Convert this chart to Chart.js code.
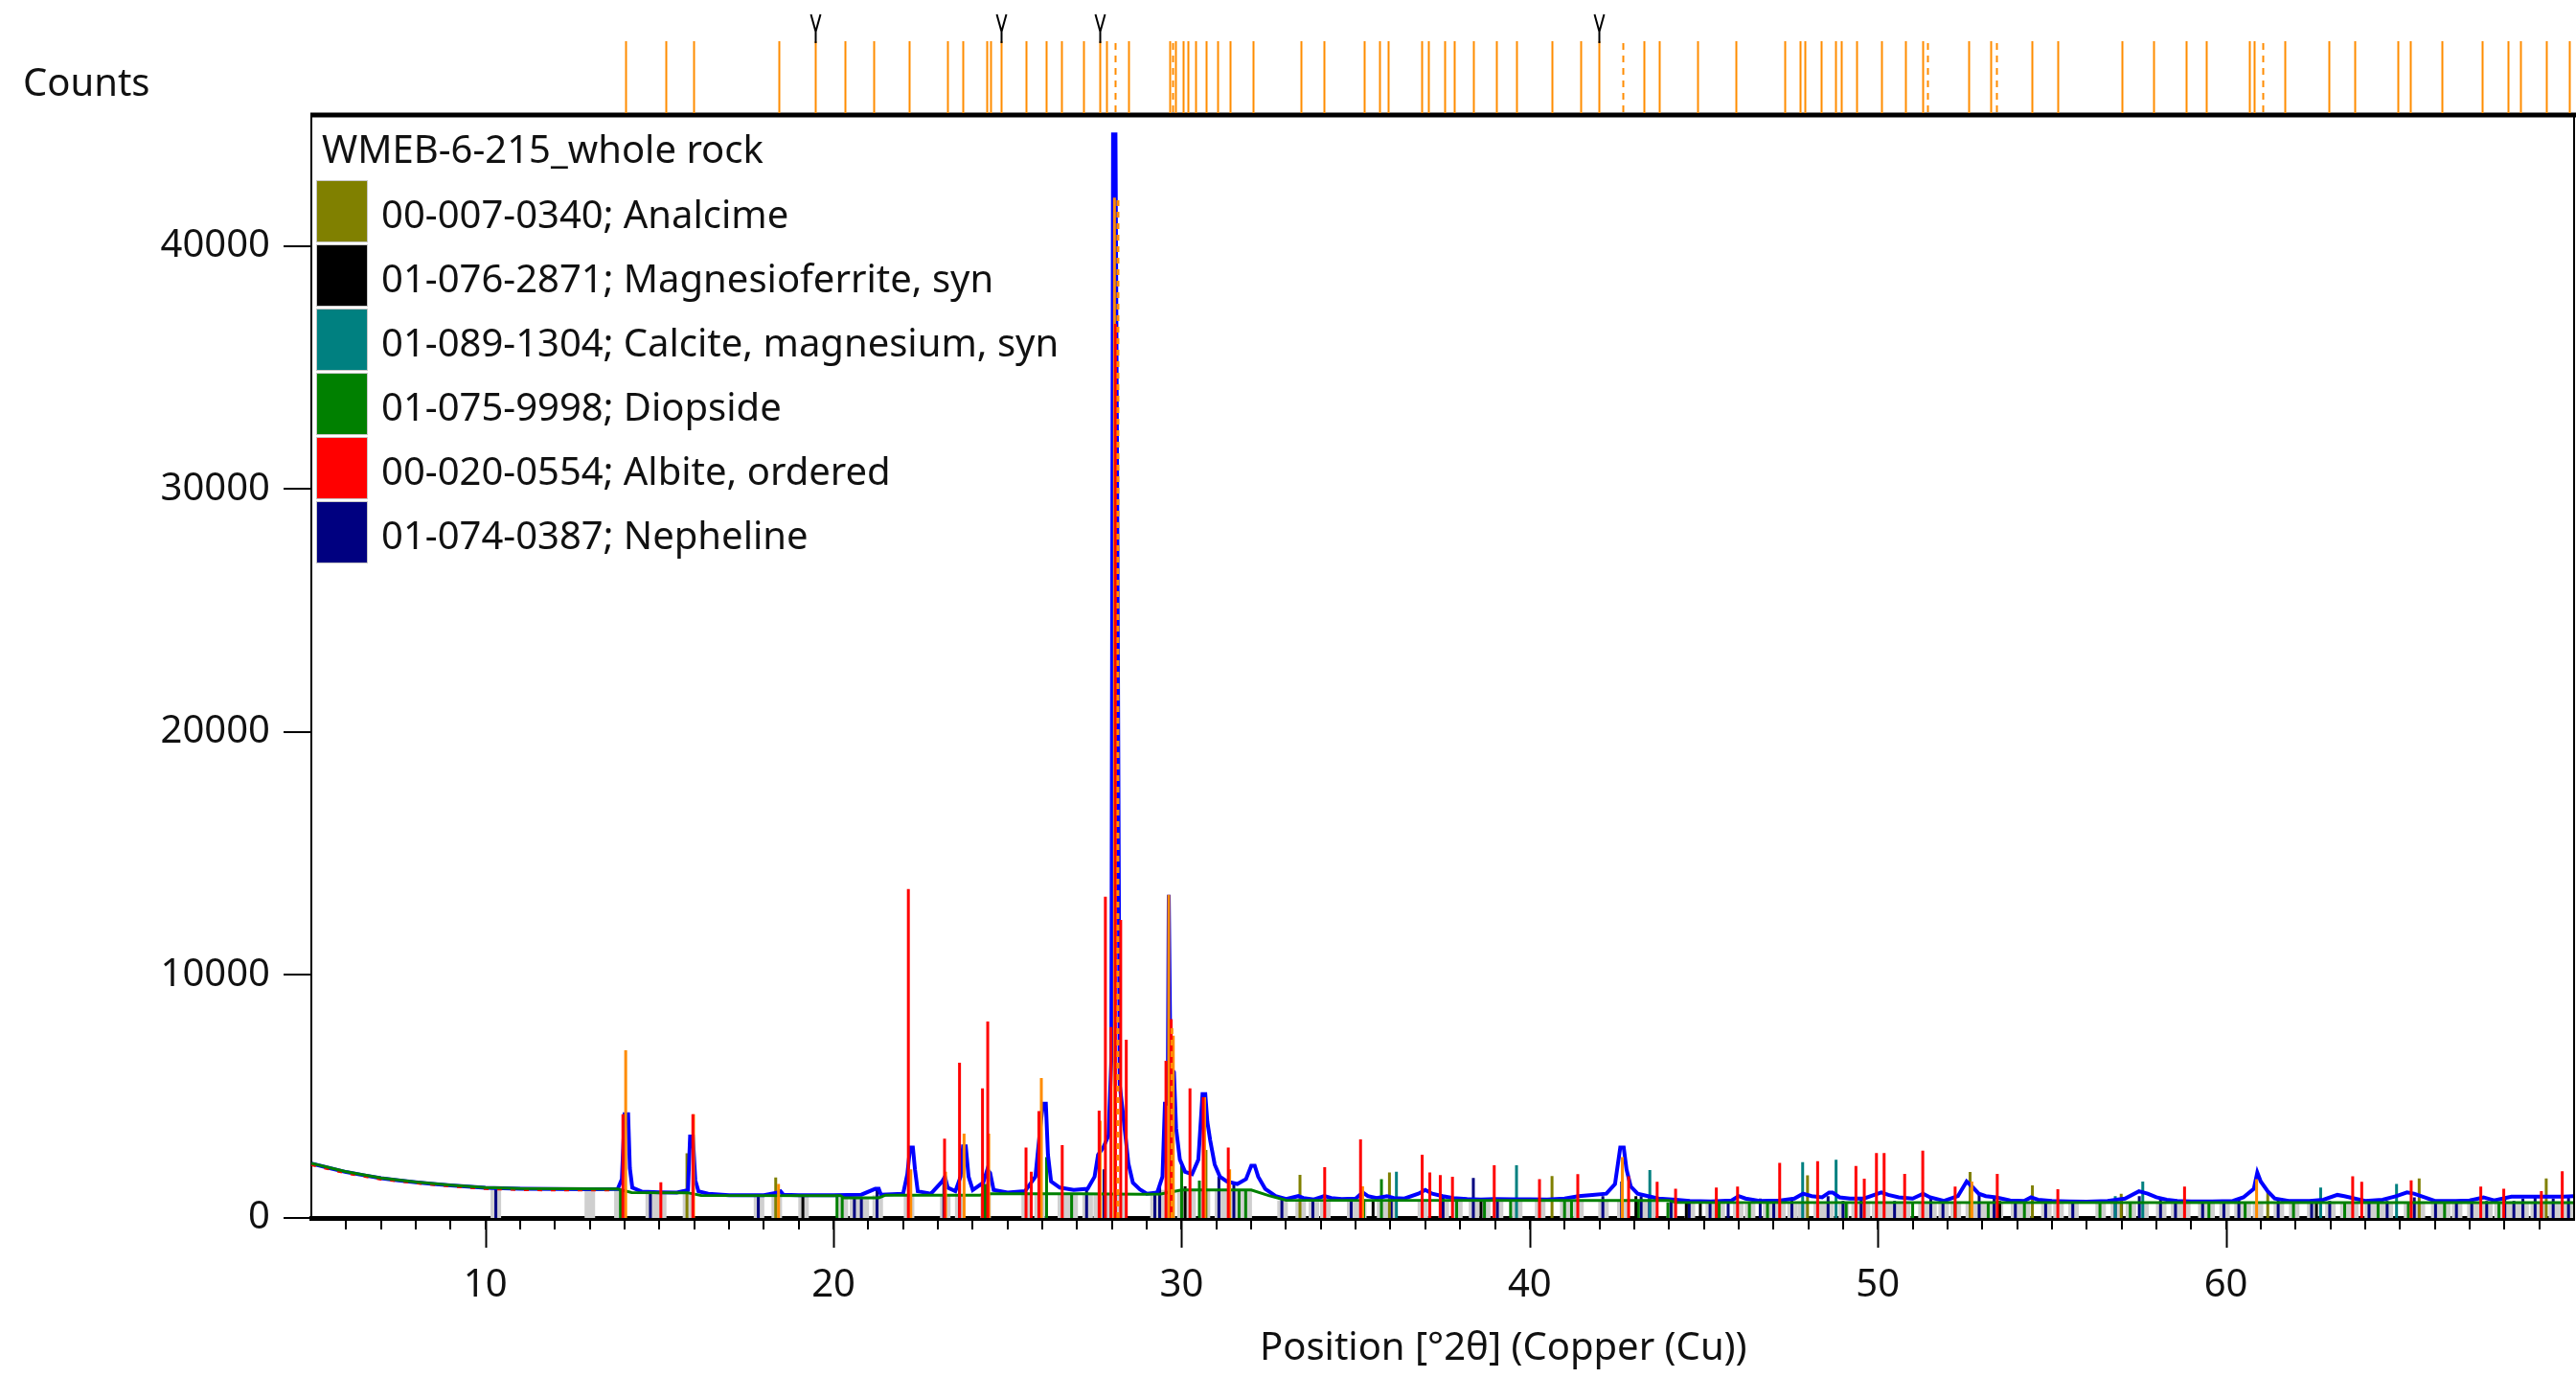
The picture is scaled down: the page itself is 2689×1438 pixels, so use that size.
<!DOCTYPE html>
<html lang="en">
<head>
<meta charset="UTF-8">
<title>WMEB-6-215 whole rock XRD</title>
<script src="https://cdn.jsdelivr.net/npm/chart.js@4.4.1/dist/chart.umd.min.js"></script>
<style>
    body { margin: 0; background: #fff; }
    #wrap { position: relative; width: 2689px; height: 1438px; font-family: "Noto Sans", sans-serif; color: #111; }
    .lbl { position: absolute; line-height: 1; white-space: nowrap; }
    #counts { left: 24px; top: 65px; font-size: 40px; }
    #xtitle { left: 1315px; top: 1384px; font-size: 40px; }
    #legend { position: absolute; left: 330px; top: 135px; }
    #legend .title { font-size: 40px; line-height: 1; margin-left: 6px; height: 53px; }
    #legend .row { position: relative; height: 67px; }
    #legend .sw { position: absolute; left: 0; top: 0; width: 52px; height: 63px; border: 1px solid #c8c8c8; }
    #legend .txt { position: absolute; left: 68px; top: 15px; font-size: 40px; line-height: 1; white-space: nowrap; }
</style>
</head>
<body>
<div id="wrap">
    <canvas id="chart"></canvas>
    <div class="lbl" id="counts">Counts</div>
    <div class="lbl" id="xtitle">Position [°2θ] (Copper (Cu))</div>
    <div id="legend"></div>
</div>

<script>
// sample + phases (legend order)
const sampleName = 'WMEB-6-215_whole rock';
const phaseLabels = ['00-007-0340; Analcime', '01-076-2871; Magnesioferrite, syn', '01-089-1304; Calcite, magnesium, syn',
    '01-075-9998; Diopside', '00-020-0554; Albite, ordered', '01-074-0387; Nepheline'];
const phaseColors = ['#808000', '#000000', '#008080', '#008000', '#ff0000', '#000080'];

const yTicks = [0, 10000, 20000, 30000, 40000];
const xLabels = [10, 20, 30, 40, 50, 60];

// measured scan (blue)
const scanX = [5.0, 5.5, 6.0, 6.5, 7.0, 7.5, 8.0, 8.5, 9.0, 9.5, 10.0, 11.0, 12.0, 13.0, 13.8, 13.92, 14.0, 14.1, 14.15, 14.22,
    14.5, 15.0, 15.5, 15.82, 15.88, 15.96, 16.03, 16.12, 16.4, 17.0, 18.0, 18.4, 18.48, 18.56, 19.0, 20.0, 20.8, 21.2, 21.3, 21.36,
    22.0, 22.12, 22.2, 22.28, 22.34, 22.42, 22.8, 23.12, 23.2, 23.28, 23.5, 23.65, 23.72, 23.8, 23.88, 24.0, 24.3, 24.42, 24.5, 24.6,
    25.0, 25.5, 25.8, 25.96, 26.02, 26.1, 26.16, 26.25, 26.5, 26.9, 27.3, 27.5, 27.6, 27.75, 27.9, 27.98, 28.03, 28.1, 28.15, 28.22,
    28.3, 28.4, 28.47, 28.6, 28.8, 29.0, 29.3, 29.45, 29.52, 29.6, 29.63, 29.68, 29.78, 29.84, 29.95, 30.1, 30.3, 30.48, 30.6, 30.68,
    30.74, 30.82, 30.95, 31.1, 31.3, 31.6, 31.85, 32.0, 32.1, 32.2, 32.4, 32.7, 33.0, 33.35, 33.5, 33.8, 34.1, 34.3, 34.6, 35.0,
    35.2, 35.35, 35.6, 35.9, 36.1, 36.4, 36.8, 37.0, 37.2, 37.5, 37.8, 38.2, 38.6, 39.0, 39.5, 40.0, 40.5, 41.0, 41.4, 41.8,
    42.2, 42.45, 42.6, 42.7, 42.78, 42.9, 43.1, 43.4, 43.7, 44.2, 44.6, 45.2, 45.8, 46.0, 46.2, 46.6, 47.2, 47.6, 47.85, 48.1,
    48.4, 48.6, 48.7, 48.9, 49.2, 49.6, 49.9, 50.1, 50.3, 50.6, 51.0, 51.3, 51.5, 51.9, 52.3, 52.55, 52.7, 52.9, 53.1, 53.4,
    53.8, 54.2, 54.4, 54.6, 55.0, 55.5, 56.0, 56.6, 57.1, 57.5, 57.75, 58.0, 58.3, 58.6, 59.0, 59.6, 60.2, 60.5, 60.8, 60.9,
    61.0, 61.2, 61.4, 61.8, 62.4, 62.8, 63.2, 63.4, 63.7, 64.0, 64.5, 64.9, 65.2, 65.4, 65.7, 66.0, 66.6, 67.0, 67.4, 67.7,
    68.2, 69.2, 69.7, 70.0];
const scanY = [2240, 2060, 1890, 1760, 1640, 1550, 1470, 1400, 1340, 1290, 1240, 1200, 1190, 1185, 1190, 1600, 4270, 4270, 2050, 1250,
    1080, 1060, 1050, 1150, 3350, 3350, 1550, 1100, 1000, 940, 935, 1050, 1100, 960, 940, 940, 960, 1200, 1200, 960,
    1000, 1800, 2900, 2900, 2000, 1100, 1000, 1500, 1700, 1250, 1100, 1700, 2950, 2950, 1700, 1150, 1450, 2000, 1850, 1150,
    1050, 1100, 1700, 4000, 4700, 4700, 2600, 1500, 1250, 1150, 1200, 1700, 2600, 2900, 3400, 6500, 44600, 44600, 30000, 5500,
    4500, 3200, 2250, 1450, 1180, 1000, 1050, 1700, 4700, 4700, 13300, 6200, 6000, 3700, 2400, 1900, 1800, 2400, 5100, 5100,
    3950, 3200, 2200, 1700, 1500, 1400, 1600, 2150, 2150, 1700, 1200, 900, 780, 900, 820, 760, 900, 820, 780, 800,
    1050, 900, 820, 900, 820, 800, 1000, 1150, 1000, 900, 820, 780, 760, 780, 770, 770, 760, 800, 900, 950,
    1000, 1400, 2900, 2900, 2000, 1300, 1000, 900, 800, 750, 700, 680, 720, 900, 800, 700, 720, 800, 1000, 900,
    850, 1050, 1050, 850, 800, 800, 950, 1050, 950, 850, 800, 1000, 850, 700, 900, 1500, 1300, 1000, 900, 850,
    720, 700, 850, 750, 700, 680, 670, 700, 800, 1100, 1000, 850, 750, 700, 680, 680, 700, 850, 1200, 1870,
    1500, 1100, 800, 700, 700, 750, 950, 900, 800, 700, 750, 900, 1050, 1000, 850, 700, 700, 720, 850, 720,
    880, 880, 880, 900];

// background (green)
const bgX = [5, 6, 7, 8, 9, 10, 11, 13.8, 14.2, 15.8, 16.2, 20.2, 20.3, 21.3, 21.5, 24.2, 24.4, 27.1, 28.9, 29.4, 30.0, 32.0, 32.5, 33.0, 44.0, 44.2, 70];
const bgY = [2250, 1900, 1650, 1480, 1350, 1250, 1210, 1190, 1050, 1040, 930, 920, 830, 830, 940, 940, 1000, 1000, 980, 990, 1150, 1150, 920, 730, 720, 640, 630];

// red residual specks along the low-angle background
const lowX = [5, 6, 7, 8, 9, 10, 11, 12, 13, 13.8];
const lowY = [2190, 1850, 1600, 1440, 1310, 1210, 1170, 1150, 1150, 1150];

// calculated profile peaks (orange)
const calcX = [14.03, 15.98, 18.42, 22.22, 23.22, 23.75, 24.46, 25.97, 27.66, 28.07, 29.63, 29.76, 30.66, 31.38, 35.2, 42.66, 52.7, 60.88];
const calcY = [6900, 4270, 1400, 2000, 1900, 3470, 3470, 5760, 4000, 42000, 13300, 7500, 4970, 2000, 1300, 2500, 1500, 1600];
const dashX = [28.17, 29.72];
const dashY = [42000, 8000];

// reference sticks per phase
const albiteX = [13.95, 15.04, 15.96, 22.15, 23.19, 23.62, 24.28, 24.43, 25.53, 25.68, 25.9, 26.57, 27.63, 27.81, 27.97, 28.1, 28.25, 28.41,
    29.55, 29.7, 30.24, 30.62, 31.34, 34.11, 35.14, 36.91, 37.13, 37.43, 37.78, 38.98, 40.28, 41.38, 42.84, 43.66, 44.19, 45.36,
    45.97, 47.18, 48.27, 49.37, 49.61, 49.96, 50.18, 50.77, 51.29, 52.22, 53.43, 55.17, 58.81, 63.64, 63.9, 65.32, 67.32, 67.98,
    69.06, 69.66];
const albiteY = [4270, 1470, 4270, 13540, 3260, 6390, 5330, 8090, 2900, 1900, 4400, 3000, 4420, 13220, 7860, 36800, 12270, 7340,
    6470, 8180, 5330, 4970, 2900, 2090, 3230, 2600, 1870, 1770, 1700, 2170, 1600, 1800, 1720, 1490, 1200, 1250,
    1290, 2270, 2340, 2140, 1620, 2670, 2670, 1815, 2770, 1290, 1815, 1180, 1290, 1720, 1490, 1550, 1290, 1200,
    1100, 1920];
const nephX = [10.3, 14.74, 17.84, 20.6, 20.8, 21.25, 23.17, 23.62, 24.33, 27.27, 27.77, 29.23, 29.37, 31.07, 31.5, 32.88, 33.77, 34.87,
    36.02, 37.51, 38.38, 39.07, 42.1, 42.64, 43.2, 43.44, 44.06, 44.58, 45.18, 45.7, 46.62, 47.01, 47.53, 48.57, 49.0, 49.52,
    50.48, 51.52, 51.87, 52.91, 53.34, 53.95, 54.82, 55.6, 56.82, 57.51, 58.12, 58.55, 59.33, 59.94, 60.37, 61.5, 62.46, 62.98,
    64.11, 64.63, 65.41, 66.02, 66.62, 67.06, 67.49, 68.01, 68.27, 68.53, 68.88, 69.4, 69.84];
const nephY = [1240, 1040, 920, 830, 830, 1250, 1600, 1700, 1100, 1200, 2000, 1000, 1300, 1700, 1400, 750, 750, 750,
    820, 900, 1650, 760, 900, 1500, 900, 850, 700, 650, 700, 650, 800, 700, 750, 900, 700, 800,
    700, 850, 700, 950, 800, 650, 700, 650, 700, 900, 750, 650, 650, 700, 750, 800, 650, 700,
    650, 700, 850, 700, 700, 650, 700, 750, 700, 800, 850, 800, 850];
const diopX = [13.88, 20.1, 20.25, 24.36, 26.12, 26.84, 30.0, 30.51, 30.65, 31.65, 31.84, 35.23, 35.74, 37.9, 38.7, 39.45, 41.0, 41.2,
    43.12, 43.97, 45.44, 46.31, 46.83, 49.09, 51.0, 52.22, 53.17, 54.21, 56.38, 57.25, 59.51, 60.55, 61.94, 63.41, 64.37, 65.24,
    66.28, 67.84, 69.06];
const diopY = [1190, 920, 830, 1400, 2500, 1000, 2170, 1540, 2000, 1150, 1150, 760, 1600, 740, 740, 720, 740, 740,
    720, 640, 640, 640, 640, 640, 640, 640, 640, 640, 640, 640, 640, 640, 640, 640, 640, 640,
    640, 640, 640];
const analX = [15.79, 18.34, 25.95, 30.7, 33.4, 35.97, 40.64, 47.98, 52.65, 54.44, 56.99, 61.2, 65.55, 69.2];
const analY = [2660, 1670, 1600, 2800, 1775, 1870, 1730, 1760, 1890, 1340, 1000, 1100, 1630, 1630];
const magX = [19.12, 30.1, 35.5, 38.6, 43.05, 44.5, 44.9, 53.5, 57.0, 62.6];
const magY = [920, 1300, 760, 740, 900, 700, 700, 700, 700, 700];
const calcMgX = [29.64, 36.17, 39.62, 43.45, 47.84, 48.8, 56.82, 57.61, 62.72, 64.9];
const calcMgY = [9660, 1900, 2170, 1970, 2300, 2400, 900, 1500, 1250, 1400];

// grey shading under the background at reference positions
const shadeX = [10.3, 13.0, 13.85, 14.75, 15.05, 15.82, 17.86, 18.37, 19.14, 20.27, 20.62, 20.87, 21.27, 22.17, 23.21, 23.64,
    24.37, 25.55, 25.92, 26.59, 26.87, 27.3, 27.62, 27.97, 28.27, 29.25, 29.4, 29.66, 30.02, 30.26, 30.67, 31.1, 31.36, 31.67,
    31.87, 32.9, 33.42, 33.8, 34.13, 34.9, 35.16, 35.76, 36.04, 36.93, 37.53, 37.92, 38.4, 38.72, 39.09, 39.64, 40.3, 41.02,
    41.4, 42.12, 42.66, 43.22, 43.47, 44.08, 44.6, 45.2, 45.46, 45.99, 46.33, 46.85, 47.2, 47.55, 47.86, 48.3, 48.59, 49.02,
    49.39, 49.63, 49.98, 50.2, 50.5, 50.79, 51.31, 51.54, 51.89, 52.24, 52.67, 52.93, 53.19, 53.45, 53.97, 54.23, 54.84, 55.19,
    55.62, 56.4, 56.84, 57.27, 57.63, 58.14, 58.57, 58.83, 59.35, 59.53, 59.96, 60.39, 60.57, 60.92, 61.52, 61.96, 62.48, 63.0,
    63.43, 63.66, 64.13, 64.39, 64.65, 65.26, 65.43, 65.57, 66.04, 66.3, 66.64, 67.08, 67.34, 67.51, 67.86, 68.03, 68.29, 68.55,
    68.9, 69.08, 69.42, 69.68, 69.86];
const shadeY = [1240, 1190, 1190, 1040, 1040, 1040, 920, 920, 920, 830, 830, 830, 940, 940, 940, 940,
    1000, 1000, 1000, 1000, 1000, 980, 980, 980, 980, 990, 1150, 1150, 1150, 1150, 1150, 1150, 1150, 1150,
    1150, 720, 720, 720, 720, 720, 720, 720, 720, 720, 720, 720, 720, 720, 720, 720, 720, 720,
    720, 720, 720, 720, 720, 630, 630, 630, 630, 630, 630, 630, 630, 630, 630, 630, 630, 630,
    630, 630, 630, 630, 630, 630, 630, 630, 630, 630, 630, 630, 630, 630, 630, 630, 630, 630,
    630, 630, 630, 630, 630, 630, 630, 630, 630, 630, 630, 630, 630, 630, 630, 630, 630, 630,
    630, 630, 630, 630, 630, 630, 630, 630, 630, 630, 630, 630, 630, 630, 630, 630, 630, 630,
    630, 630, 630, 630, 630];

// peak list strip above the plot
const peakPos = [14.02, 15.18, 15.97, 18.42, 19.47, 20.32, 21.14, 22.16, 23.26, 23.70, 24.39, 24.50, 24.80, 25.52, 26.12, 26.56,
    27.19, 27.66, 27.83, 28.46, 29.67, 29.83, 30.03, 30.19, 30.41, 30.69, 31.02, 31.40, 32.06, 33.44, 34.10, 35.23, 35.67, 35.94,
    36.90, 37.10, 37.56, 37.84, 38.39, 39.05, 39.63, 40.64, 41.47, 41.99, 43.28, 43.72, 44.82, 45.92, 47.33, 47.77, 47.90, 48.37,
    48.78, 48.95, 49.39, 50.10, 50.79, 51.29, 52.61, 53.24, 54.42, 55.16, 57.01, 57.92, 58.85, 59.43, 60.67, 60.80, 61.68, 62.95,
    63.69, 64.93, 65.29, 66.19, 67.35, 68.09, 68.45, 69.19, 69.85];
const peakDashed = [28.10, 29.75, 42.68, 51.42, 53.40, 61.05];
const markerPos = [19.47, 24.80, 27.66, 41.99];

// legend
const legend = document.getElementById('legend');
legend.innerHTML = '<div class="title">' + sampleName + '</div>' +
    phaseLabels.map((t, i) => '<div class="row"><div class="sw" style="background:' + phaseColors[i] + '"></div><div class="txt">' + t + '</div></div>').join('');

function sticks(xs, ys) {
    const pts = [];
    xs.forEach((x, i) => { pts.push({x: x, y: 0}, {x: x, y: ys[i]}, {x: x, y: null}); });
    return pts;
}
function line(xs, ys) {
    return xs.map((x, i) => ({x: x, y: ys[i]}));
}
function stickSet(data, color, width, order, dash) {
    return { data: data, borderColor: color, borderWidth: width, pointRadius: 0, spanGaps: false,
             borderCapStyle: 'butt', borderDash: dash || [], order: order };
}

const framePlugin = {
    id: 'frame',
    afterDraw(chart) {
        const ctx = chart.ctx, a = chart.chartArea, x = chart.scales.x;
        ctx.save();
        // long ticks under labelled positions
        ctx.strokeStyle = '#000';
        ctx.lineWidth = 2;
        xLabels.forEach(v => {
            const px = Math.round(x.getPixelForValue(v)) + 0.5;
            ctx.beginPath(); ctx.moveTo(px, a.bottom); ctx.lineTo(px, a.bottom + 31); ctx.stroke();
        });
        // top and right frame
        ctx.lineWidth = 5;
        ctx.beginPath(); ctx.moveTo(a.left - 1, a.top); ctx.lineTo(chart.width, a.top); ctx.stroke();
        ctx.lineWidth = 2;
        ctx.beginPath(); ctx.moveTo(a.right, a.top); ctx.lineTo(a.right, a.bottom); ctx.stroke();
        // peak list
        ctx.strokeStyle = '#ff8c00';
        ctx.lineWidth = 2;
        peakPos.forEach(v => {
            const px = Math.round(x.getPixelForValue(v)) + 0.5;
            ctx.beginPath(); ctx.moveTo(px, 43); ctx.lineTo(px, a.top - 2); ctx.stroke();
        });
        ctx.setLineDash([7, 6]);
        peakDashed.forEach(v => {
            const px = Math.round(x.getPixelForValue(v)) + 0.5;
            ctx.beginPath(); ctx.moveTo(px, 45); ctx.lineTo(px, a.top - 2); ctx.stroke();
        });
        ctx.setLineDash([]);
        // search-match markers
        ctx.strokeStyle = '#000';
        markerPos.forEach(v => {
            const px = Math.round(x.getPixelForValue(v)) + 0.5;
            ctx.beginPath();
            ctx.moveTo(px - 5, 15); ctx.lineTo(px, 33); ctx.lineTo(px + 5, 15);
            ctx.moveTo(px, 33); ctx.lineTo(px, 45);
            ctx.stroke();
        });
        ctx.restore();
    }
};

new Chart(document.getElementById('chart'), {
    type: 'line',
    data: {
        datasets: [
            stickSet(sticks(shadeX, shadeY), '#cfcfcf', 11, 20),
            stickSet(sticks(nephX, nephY), phaseColors[5], 3, 12),
            stickSet(sticks(diopX, diopY), phaseColors[3], 3, 11),
            stickSet(sticks(magX, magY), phaseColors[1], 3, 10),
            stickSet(sticks(analX, analY), phaseColors[0], 3, 9),
            stickSet(sticks(calcMgX, calcMgY), phaseColors[2], 3, 8),
            { data: line(scanX, scanY), borderColor: '#0000ff', borderWidth: 4, pointRadius: 0, order: 7 },
            { data: line(lowX, lowY), borderColor: '#ff0000', borderWidth: 3, pointRadius: 0, borderDash: [5, 9], order: 6 },
            { data: line(bgX, bgY), borderColor: '#008000', borderWidth: 3, pointRadius: 0, order: 5 },
            stickSet(sticks(calcX, calcY), '#ff8c00', 3, 4),
            stickSet(sticks(albiteX, albiteY), phaseColors[4], 3, 3),
            stickSet(sticks(dashX, dashY), '#ff8c00', 3, 1, [6, 6])
        ]
    },
    options: {
        responsive: true,
        maintainAspectRatio: false,
        animation: false,
        events: [],
        layout: { padding: { top: 120, right: 2, left: 0, bottom: 0 } },
        plugins: { legend: { display: false }, tooltip: { enabled: false } },
        elements: { line: { tension: 0 } },
        scales: {
            x: {
                type: 'linear',
                min: 5,
                max: 70,
                afterFit(scale) { scale.height = 167; },
                afterBuildTicks(scale) { scale.ticks = scale.ticks.filter(t => t.value > 5 && t.value < 70); },
                border: { color: '#000', width: 5 },
                grid: { drawOnChartArea: false, color: '#000', lineWidth: 2, tickLength: 12 },
                ticks: {
                    stepSize: 1,
                    autoSkip: false,
                    maxRotation: 0,
                    padding: 35,
                    color: '#111',
                    font: { family: 'Noto Sans', size: 40 },
                    callback: v => xLabels.includes(v) ? String(v) : ''
                }
            },
            y: {
                min: 0,
                max: 45400,
                afterFit(scale) { scale.width = 325; },
                afterBuildTicks(scale) { scale.ticks = yTicks.map(v => ({value: v})); },
                border: { color: '#000', width: 2 },
                grid: { drawOnChartArea: false, color: '#000', lineWidth: 2, tickLength: 29 },
                ticks: {
                    padding: 14,
                    color: '#111',
                    font: { family: 'Noto Sans', size: 40 },
                    callback: v => String(v)
                }
            }
        }
    },
    plugins: [framePlugin]
});
</script>
</body>
</html>
